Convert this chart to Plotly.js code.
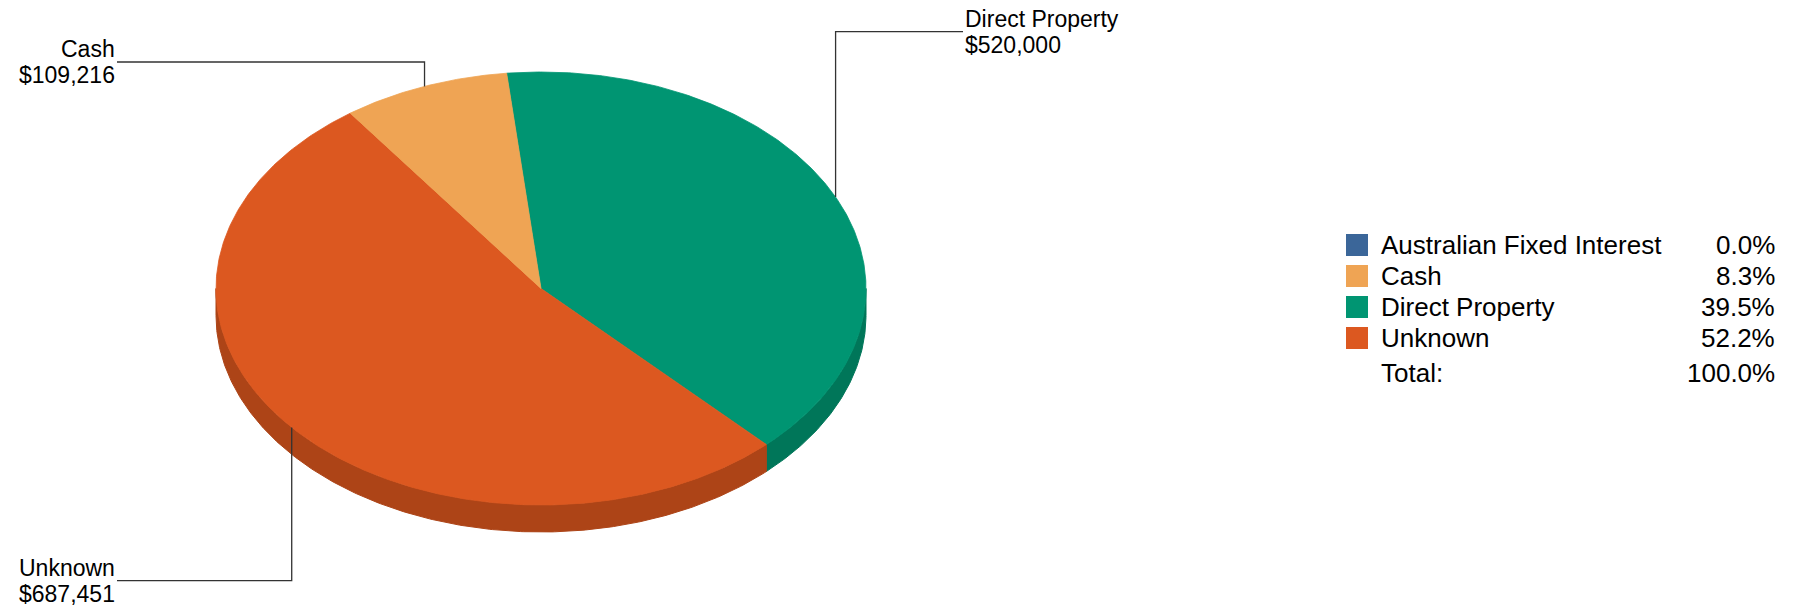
<!DOCTYPE html>
<html>
<head>
<meta charset="utf-8">
<script src="https://cdn.plot.ly/plotly-3.0.1.min.js"></script>
<style>html,body{margin:0;padding:0;background:#fff;}#chart{width:1800px;height:611px;}</style>
</head>
<body>
<div id="chart"></div>
<script>
// ---- data ----
const categories = ["Australian Fixed Interest", "Cash", "Direct Property", "Unknown"];
const values = [0, 109216, 520000, 687451];
const valueLabels = ["$0", "$109,216", "$520,000", "$687,451"];
const topColors = ["#3B6699", "#EFA454", "#009572", "#DC5820"];
const sideColors = ["#2E5079", "#BE8343", "#007659", "#AD4417"];
const totalLabel = "Total:";

// ---- layout geometry (pixels, axes mapped 1:1) ----
const W = 1800, H = 611;
const cx = 541, cy = 288.5, rx = 325, ry = 216.5, depth = 27;
const startAngle = -6.07;          // degrees, clockwise from 12 o'clock
const sliceOrder = [2, 3, 1, 0];   // clockwise drawing order: Direct Property, Unknown, Cash, AFI

// label placement for each category (leader line level, text x, alignment)
const labelPlace = {
  1: {lineY: 62, textX: 117, side: "left"},
  2: {lineY: 31.7, textX: 963, side: "right"},
  3: {lineY: 580.7, textX: 117, side: "left"}
};

const total = values.reduce((a, b) => a + b, 0);
const rad = d => d * Math.PI / 180;
const pt = (a, dy) => [cx + rx * Math.sin(rad(a)), cy - ry * Math.cos(rad(a)) + (dy || 0)];

// compute slice angles
const slices = [];
let a = startAngle;
sliceOrder.forEach(i => {
  const span = values[i] / total * 360;
  slices.push({i: i, a0: a, a1: a + span});
  a += span;
});

const traces = [];

function arc(a0, a1, dy) {
  const n = Math.max(2, Math.ceil(Math.abs(a1 - a0) / 0.5));
  const out = [];
  for (let k = 0; k <= n; k++) out.push(pt(a0 + (a1 - a0) * k / n, dy));
  return out;
}

// side (front half: 90..270 degrees)
slices.forEach(s => {
  if (s.a1 - s.a0 <= 0) return;
  [[90, 270], [450, 630], [-270, -90]].forEach(r => {
    const s0 = Math.max(s.a0, r[0]), s1 = Math.min(s.a1, r[1]);
    if (s1 > s0) {
      const topArc = arc(s0, s1, 0);
      const botArc = arc(s0, s1, depth).reverse();
      const pts = topArc.concat(botArc);
      pts.push(topArc[0]);
      traces.push({
        type: "scatter", mode: "lines", fill: "toself",
        x: pts.map(p => p[0]), y: pts.map(p => p[1]),
        fillcolor: sideColors[s.i], line: {color: sideColors[s.i], width: 1},
        hoverinfo: "skip"
      });
    }
  });
});

// top faces
slices.forEach(s => {
  if (s.a1 - s.a0 <= 0) return;
  const pts = [[cx, cy]].concat(arc(s.a0, s.a1, 0));
  pts.push([cx, cy]);
  traces.push({
    type: "scatter", mode: "lines", fill: "toself",
    x: pts.map(p => p[0]), y: pts.map(p => p[1]),
    fillcolor: topColors[s.i], line: {color: topColors[s.i], width: 0.8},
    hoverinfo: "skip"
  });
});

// leader lines + labels
const annotations = [];
const labelFont = {family: "Arial, 'Liberation Sans', sans-serif", size: 23, color: "#000"};
slices.forEach(s => {
  const lp = labelPlace[s.i];
  if (!lp) return;
  const mid = (s.a0 + s.a1) / 2;
  const p = pt(mid, 0);
  traces.push({
    type: "scatter", mode: "lines",
    x: [p[0], p[0], lp.textX], y: [p[1], lp.lineY, lp.lineY],
    line: {color: "#333333", width: 1.3}, hoverinfo: "skip"
  });
  const xa = lp.side === "left" ? "right" : "left";
  annotations.push({x: lp.textX, y: lp.lineY - 13.2, xref: "x", yref: "y", text: categories[s.i],
    showarrow: false, xanchor: xa, yanchor: "middle", font: labelFont});
  annotations.push({x: lp.textX, y: lp.lineY + 13.2, xref: "x", yref: "y", text: valueLabels[s.i],
    showarrow: false, xanchor: xa, yanchor: "middle", font: labelFont});
});

// legend table
const legFont = {family: "Arial, 'Liberation Sans', sans-serif", size: 26, color: "#000"};
const legX = 1346, legSq = 22, legTextX = 1379, legPctX = 1777, legY0 = 245, legDy = 31;
const shapes = [];
categories.forEach((c, k) => {
  const yc = legY0 + k * legDy;
  shapes.push({type: "rect", xref: "x", yref: "y", x0: legX, x1: legX + legSq,
    y0: yc - legSq / 2, y1: yc + legSq / 2, fillcolor: topColors[k], line: {width: 0}});
  annotations.push({x: legTextX, y: yc, xref: "x", yref: "y", text: c, showarrow: false,
    xanchor: "left", yanchor: "middle", font: legFont});
  annotations.push({x: legPctX, y: yc, xref: "x", yref: "y",
    text: (values[k] / total * 100).toFixed(1) + "%", showarrow: false,
    xanchor: "right", yanchor: "middle", font: legFont});
});
const totY = legY0 + categories.length * legDy + 3.5;
annotations.push({x: legTextX, y: totY, xref: "x", yref: "y", text: totalLabel, showarrow: false,
  xanchor: "left", yanchor: "middle", font: legFont});
annotations.push({x: legPctX, y: totY, xref: "x", yref: "y",
  text: (values.reduce((s, v) => s + v, 0) / total * 100).toFixed(1) + "%", showarrow: false,
  xanchor: "right", yanchor: "middle", font: legFont});

const layout = {
  width: W, height: H,
  margin: {l: 0, r: 0, t: 0, b: 0, pad: 0},
  paper_bgcolor: "#ffffff", plot_bgcolor: "#ffffff",
  showlegend: false,
  xaxis: {range: [0, W], visible: false, fixedrange: true},
  yaxis: {range: [H, 0], visible: false, fixedrange: true},
  shapes: shapes,
  annotations: annotations
};

Plotly.newPlot("chart", traces, layout, {staticPlot: true, displayModeBar: false});
</script>
</body>
</html>
